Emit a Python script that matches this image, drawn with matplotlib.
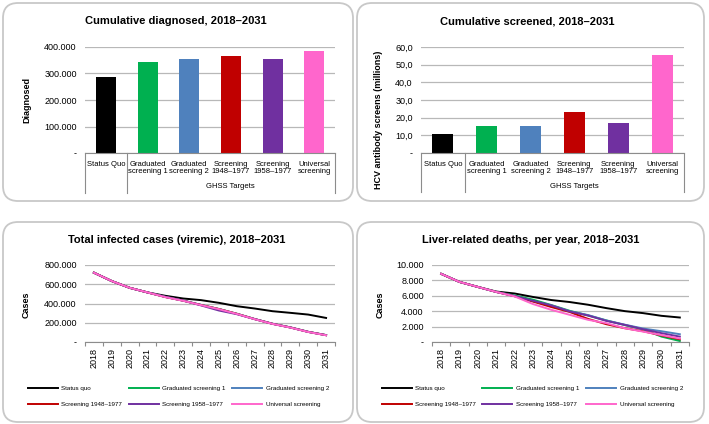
import matplotlib
matplotlib.use("Agg")
import matplotlib.pyplot as plt
import numpy as np
from matplotlib.patches import FancyBboxPatch
from matplotlib.ticker import FuncFormatter, FixedLocator
import matplotlib.transforms as mtransforms

plt.rcParams['font.family'] = ['Liberation Sans', 'DejaVu Sans']

# --- DATA ---
scenarios = ["Status Quo", "Graduated\nscreening 1", "Graduated\nscreening 2",
             "Screening\n1948\u20131977", "Screening\n1958\u20131977", "Universal\nscreening"]
colors = ["#000000", "#00b050", "#4f81bd", "#c00000", "#7030a0", "#ff66cc"]
diagnosed = [287500, 342500, 353800, 365000, 354000, 383800]
screened = [10.9, 15.4, 15.4, 23.4, 17.1, 55.7]

years = [str(y) for y in range(2018, 2032)]
legend_names = ["Status quo", "Graduated screening 1", "Graduated screening 2",
                "Screening 1948\u20131977", "Screening 1958\u20131977", "Universal screening"]

viremic_sq = [720000, 633000, 563000, 515000, 480000, 452000, 435000, 407000, 372000, 348000, 320000, 303000, 285000, 250000]
viremic_g1 = [720000, 633000, 563000, 515000, 468000, 430000, 385000, 343000, 294000, 239000, 190000, 152000, 106000, 72000]
viremic_g2 = [720000, 633000, 563000, 515000, 468000, 430000, 386000, 342000, 293000, 238000, 189000, 151000, 105000, 71000]
viremic_s48 = [720000, 633000, 563000, 515000, 467000, 429000, 384000, 342000, 293000, 238000, 189000, 151000, 105000, 71000]
viremic_s58 = [720000, 633000, 563000, 515000, 470000, 430000, 380000, 327000, 289000, 238000, 189000, 151000, 105000, 71000]
viremic_un = [720000, 633000, 563000, 515000, 466000, 428000, 383000, 341000, 292000, 237000, 188000, 150000, 104000, 70000]

deaths_sq = [8850, 7800, 7150, 6550, 6300, 5850, 5450, 5190, 4840, 4400, 4010, 3750, 3400, 3180]
deaths_g1 = [8850, 7800, 7150, 6500, 6050, 5500, 4800, 4050, 3450, 2800, 2200, 1650, 700, 130]
deaths_g2 = [8850, 7800, 7150, 6500, 6000, 5300, 4750, 4000, 3500, 2800, 2250, 1750, 1400, 1010]
deaths_s48 = [8850, 7800, 7150, 6500, 5950, 5250, 4540, 3900, 3000, 2310, 1790, 1400, 850, 350]
deaths_s58 = [8850, 7800, 7150, 6500, 5950, 5350, 4750, 3960, 3440, 2740, 2220, 1650, 1150, 700]
deaths_un = [8850, 7800, 7150, 6500, 5920, 4930, 4180, 3530, 2880, 2450, 1790, 1350, 900, 450]

GRID = "#b8b8b8"
AXC = "#8c8c8c"

fig = plt.figure(figsize=(7.09, 4.24), dpi=100)

# rounded panel boxes (pixel coords converted to inches)
def panel(x0, y0, x1, y1):
    box = FancyBboxPatch((x0 / 100, 4.24 - y1 / 100), (x1 - x0) / 100, (y1 - y0) / 100,
                         boxstyle="round,pad=0,rounding_size=0.15",
                         transform=fig.dpi_scale_trans, facecolor="white",
                         edgecolor="#c8c8c8", linewidth=1.3, zorder=0)
    fig.add_artist(box)

panel(3, 3, 353, 201)
panel(357, 3, 704, 201)
panel(3, 222, 353, 422)
panel(357, 222, 704, 422)

def ax_px(x0, ytop, x1, ybot):
    return fig.add_axes([x0 / 709, 1 - ybot / 424, (x1 - x0) / 709, (ybot - ytop) / 424])

def dot_fmt(v, pos):
    return "-" if v == 0 else f"{v:,.0f}".replace(",", ".")

def comma_fmt(v, pos):
    return "-" if v == 0 else f"{v:.1f}".replace(".", ",")

def style_common(ax):
    for s in ["left", "top", "right"]:
        ax.spines[s].set_visible(False)
    ax.spines["bottom"].set_color(AXC)
    ax.spines["bottom"].set_linewidth(0.8)
    ax.yaxis.grid(True, color=GRID, linewidth=0.9)
    ax.set_axisbelow(True)
    ax.tick_params(axis="y", length=0, labelsize=6.5, pad=6)
    ax.patch.set_alpha(0)

def bar_panel(ax, values, ymax, step, fmt, depth):
    x = np.arange(len(values))
    ax.bar(x, values, width=0.48, color=colors)
    ax.set_xlim(-0.5, len(values) - 0.5)
    ax.set_ylim(0, ymax)
    ax.set_yticks(np.arange(0, ymax + step / 2, step))
    ax.yaxis.set_major_formatter(FuncFormatter(fmt))
    style_common(ax)
    ax.set_xticks([])
    trans = mtransforms.blended_transform_factory(ax.transData, ax.transAxes)
    for xb in [-0.5, 0.5, len(values) - 0.5]:
        ax.plot([xb, xb], [0, -depth], color=AXC, lw=0.8, transform=trans, clip_on=False)
    for i, lab in enumerate(scenarios):
        ax.text(i, -0.075, lab, transform=trans, ha="center", va="top",
                fontsize=5.5, linespacing=1.05)
    ax.text(3, -0.32, "GHSS Targets", transform=trans, ha="center", va="center", fontsize=5.5)

# --- top left ---
ax1 = ax_px(85, 47, 335, 153)
bar_panel(ax1, diagnosed, 400000, 100000, dot_fmt, 0.377)
ax1.set_ylabel("Diagnosed", fontsize=6.5, fontweight="bold")
ax1.yaxis.set_label_coords(-0.216, 0.5)
fig.text(176 / 709, 1 - 21 / 424, "Cumulative diagnosed, 2018\u20132031",
         ha="center", va="center", fontsize=8, fontweight="bold")

# --- top right ---
ax2 = ax_px(421, 47, 684, 153)
bar_panel(ax2, screened, 60, 10, comma_fmt, 0.368)
ax2.set_ylabel("HCV antibody screens (millions)", fontsize=6.5, fontweight="bold")
ax2.yaxis.set_label_coords(-0.145, 0.31)
fig.text(527 / 709, 1 - 21 / 424, "Cumulative screened, 2018\u20132031",
         ha="center", va="center", fontsize=8, fontweight="bold")

# --- line panels ---
def line_panel(ax, series, ymax, step):
    x = np.arange(len(years))
    lines = []
    for vals, c, name in zip(series, colors, legend_names):
        ln, = ax.plot(x, vals, color=c, lw=1.4, label=name)
        lines.append(ln)
    ax.set_xlim(-0.5, len(years) - 0.5)
    ax.set_ylim(0, ymax)
    ax.set_yticks(np.arange(0, ymax + step / 2, step))
    ax.yaxis.set_major_formatter(FuncFormatter(dot_fmt))
    style_common(ax)
    ax.xaxis.set_major_locator(FixedLocator(np.arange(-0.5, len(years), 1.0)))
    ax.xaxis.set_minor_locator(FixedLocator(x))
    ax.set_xticklabels([], minor=False)
    ax.set_xticklabels(years, minor=True, rotation=90, fontsize=6.5)
    ax.tick_params(axis="x", which="major", length=3, color=AXC, width=0.8)
    ax.tick_params(axis="x", which="minor", length=0, pad=4)
    ax.set_ylabel("Cases", fontsize=6.5, fontweight="bold")
    order = [0, 3, 1, 4, 2, 5]
    return [lines[i] for i in order], [legend_names[i] for i in order]

ax3 = ax_px(85, 265, 335, 342)
h, l = line_panel(ax3, [viremic_sq, viremic_g1, viremic_g2, viremic_s48, viremic_s58, viremic_un], 800000, 200000)
ax3.yaxis.set_label_coords(-0.216, 0.48)
fig.text(177 / 709, 1 - 240 / 424, "Total infected cases (viremic), 2018\u20132031",
         ha="center", va="center", fontsize=8, fontweight="bold")
fig.legend(h, l, loc="upper left", bbox_to_anchor=(22 / 709, 1 - 380 / 424), ncol=3,
           frameon=False, fontsize=4.5, handlelength=4.8, handletextpad=0.6,
           columnspacing=1.0, labelspacing=1.7)

ax4 = ax_px(432, 265, 689, 342)
h, l = line_panel(ax4, [deaths_sq, deaths_g1, deaths_g2, deaths_s48, deaths_s58, deaths_un], 10000, 2000)
ax4.yaxis.set_label_coords(-0.183, 0.48)
fig.text(531 / 709, 1 - 240 / 424, "Liver-related deaths, per year, 2018\u20132031",
         ha="center", va="center", fontsize=8, fontweight="bold")
fig.legend(h, l, loc="upper left", bbox_to_anchor=(376 / 709, 1 - 380 / 424), ncol=3,
           frameon=False, fontsize=4.5, handlelength=4.8, handletextpad=0.6,
           columnspacing=1.0, labelspacing=1.7)

fig.savefig("out.png", dpi=100)
